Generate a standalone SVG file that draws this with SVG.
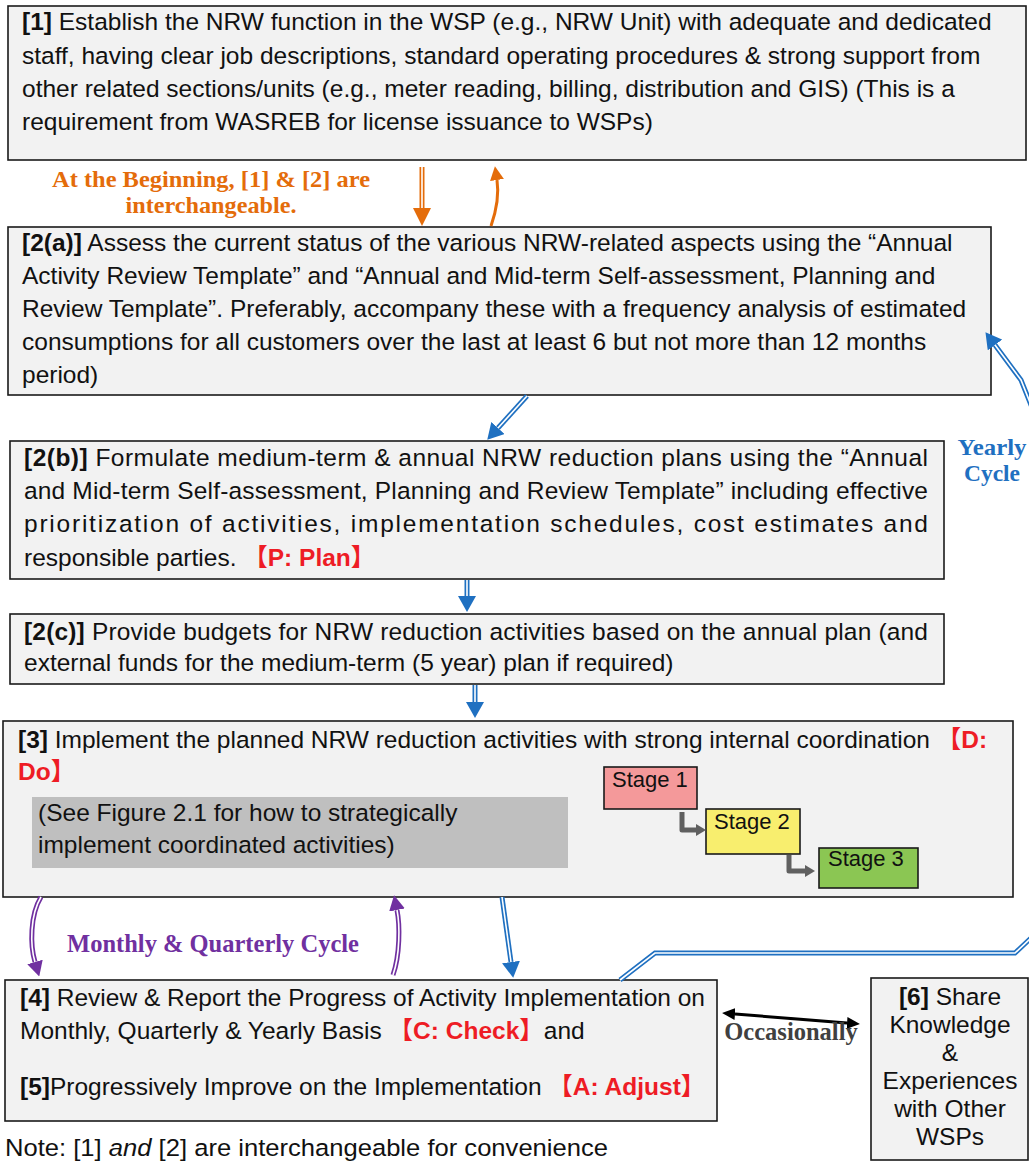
<svg xmlns="http://www.w3.org/2000/svg" width="1029" height="1163" viewBox="0 0 1029 1163">
  <style>
    .box { fill: #F2F2F2; stroke: #1a1a1a; stroke-width: 1.6; }
    .t { font-family: "Liberation Sans", Arial, "Noto Sans CJK JP", sans-serif; font-size: 24.5px; fill: #111; }
    .st { font-family: "Liberation Sans", Arial, sans-serif; font-size: 22px; fill: #111; }
    .b { font-weight: bold; }
    .red { fill: #EE1C25; font-weight: bold; }
    .lbl { font-family: "Liberation Serif", "Times New Roman", serif; font-weight: bold; font-size: 24.5px; text-anchor: middle; }
    .lbl2 { font-family: "Liberation Serif", "Times New Roman", serif; font-weight: bold; font-size: 23px; text-anchor: middle; }
    .dbl-in { fill: none; stroke: #fff; stroke-width: 1.6; }
    .dbl-blue { fill: none; stroke: #1F70C1; stroke-width: 5; }
    .dbl-orange { fill: none; stroke: #E46C0A; stroke-width: 5; }
    .dbl-purple { fill: none; stroke: #7030A0; stroke-width: 5; }
    .stage { stroke: #1a1a1a; stroke-width: 1.6; }
  </style>
  <defs>
    <marker id="ahBlue" viewBox="0 0 16 18" refX="0" refY="9" markerWidth="16" markerHeight="18" markerUnits="userSpaceOnUse" orient="auto">
      <path d="M0,0 L16,9 L0,18 z" fill="#1F70C1"/>
    </marker>
    <marker id="ahOrange" viewBox="0 0 18 18" refX="0" refY="9" markerWidth="18" markerHeight="18" markerUnits="userSpaceOnUse" orient="auto">
      <path d="M0,0 L18,9 L0,18 z" fill="#E46C0A"/>
    </marker>
    <marker id="ahOrangeSm" viewBox="0 0 14 14" refX="0" refY="7" markerWidth="14" markerHeight="14" markerUnits="userSpaceOnUse" orient="auto">
      <path d="M0,0 L14,7 L0,14 z" fill="#E46C0A"/>
    </marker>
    <marker id="ahPurple" viewBox="0 0 15 16" refX="0" refY="8" markerWidth="15" markerHeight="16" markerUnits="userSpaceOnUse" orient="auto">
      <path d="M0,0 L15,8 L0,16 z" fill="#7030A0"/>
    </marker>
    <marker id="ahBlack" viewBox="0 0 13 12" refX="0" refY="6" markerWidth="13" markerHeight="12" markerUnits="userSpaceOnUse" orient="auto-start-reverse">
      <path d="M0,0 L13,6 L0,12 z" fill="#000"/>
    </marker>
    <marker id="ahGray" viewBox="0 0 10 12" refX="0" refY="6" markerWidth="10" markerHeight="12" markerUnits="userSpaceOnUse" orient="auto">
      <path d="M0,0 L10,6 L0,12 z" fill="#606060"/>
    </marker>
  </defs>

  <rect width="1029" height="1163" fill="#fff"/>

  <!-- [1] NRW function -->
  <g id="node-1">
    <rect class="box" x="8" y="6" width="1018" height="154"/>
    <text class="t" x="22" y="30"><tspan class="b">[1]</tspan> Establish the NRW function in the WSP (e.g., NRW Unit) with adequate and dedicated</text>
    <text class="t" x="22" y="64">staff, having clear job descriptions, standard operating procedures &amp; strong support from</text>
    <text class="t" x="22" y="97">other related sections/units (e.g., meter reading, billing, distribution and GIS) (This is a</text>
    <text class="t" x="22" y="130">requirement from WASREB for license issuance to WSPs)</text>
  </g>

  <!-- [2(a)] status assessment -->
  <g id="node-2a">
    <rect class="box" x="8" y="227" width="983" height="168"/>
    <text class="t" x="22" y="251"><tspan class="b">[2(a)]</tspan> Assess the current status of the various NRW-related aspects using the “Annual</text>
    <text class="t" x="22" y="284">Activity Review Template” and “Annual and Mid-term Self-assessment, Planning and</text>
    <text class="t" x="22" y="317">Review Template”. Preferably, accompany these with a frequency analysis of estimated</text>
    <text class="t" x="22" y="350">consumptions for all customers over the last at least 6 but not more than 12 months</text>
    <text class="t" x="22" y="383">period)</text>
  </g>

  <!-- [2(b)] reduction plans -->
  <g id="node-2b">
    <rect class="box" x="10" y="441" width="934" height="138"/>
    <text class="t" x="24" y="466" textLength="904" lengthAdjust="spacing"><tspan class="b">[2(b)]</tspan> Formulate medium-term &amp; annual NRW reduction plans using the “Annual</text>
    <text class="t" x="24" y="499" textLength="904" lengthAdjust="spacing">and Mid-term Self-assessment, Planning and Review Template” including effective</text>
    <text class="t" x="24" y="532" textLength="904" lengthAdjust="spacing">prioritization of activities, implementation schedules, cost estimates and</text>
    <text class="t" x="24" y="566">responsible parties. <tspan class="red">【P: Plan】</tspan></text>
  </g>

  <!-- [2(c)] budgets -->
  <g id="node-2c">
    <rect class="box" x="10" y="614" width="934" height="70"/>
    <text class="t" x="24" y="640" textLength="904" lengthAdjust="spacing"><tspan class="b">[2(c)]</tspan> Provide budgets for NRW reduction activities based on the annual plan (and</text>
    <text class="t" x="24" y="671">external funds for the medium-term (5 year) plan if required)</text>
  </g>

  <!-- [3] implementation -->
  <g id="node-3">
    <rect class="box" x="3" y="721" width="1010" height="176"/>
    <text class="t" x="18" y="748"><tspan class="b">[3]</tspan> Implement the planned NRW reduction activities with strong internal coordination <tspan class="red">【D:</tspan></text>
    <text class="t" x="18" y="780"><tspan class="red">Do】</tspan></text>
    <rect x="32" y="797" width="536" height="71" fill="#BFBFBF"/>
    <text class="t" x="38" y="821">(See Figure 2.1 for how to strategically</text>
    <text class="t" x="38" y="853">implement coordinated activities)</text>
  </g>

  <g id="stage-1">
    <rect class="stage" x="604" y="767" width="93" height="42" fill="#F4999A"/>
    <text class="st" x="612" y="787">Stage 1</text>
  </g>
  <g id="stage-2">
    <rect class="stage" x="706" y="809" width="94" height="45" fill="#F8EE6E"/>
    <text class="st" x="714" y="829">Stage 2</text>
  </g>
  <g id="stage-3">
    <rect class="stage" x="819" y="848" width="99" height="40" fill="#8BC653"/>
    <text class="st" x="828" y="866">Stage 3</text>
  </g>

  <!-- [4]/[5] review and adjust -->
  <g id="node-4">
    <rect class="box" x="5" y="980" width="712" height="141"/>
    <text class="t" x="20" y="1006"><tspan class="b">[4]</tspan> Review &amp; Report the Progress of Activity Implementation on</text>
    <text class="t" x="20" y="1039">Monthly, Quarterly &amp; Yearly Basis <tspan class="red">【C: Check】</tspan>and</text>
    <text class="t" x="20" y="1095"><tspan class="b">[5]</tspan>Progressively Improve on the Implementation <tspan class="red">【A: Adjust】</tspan></text>
  </g>

  <!-- [6] knowledge sharing -->
  <g id="node-6">
    <rect class="box" x="871" y="978" width="157" height="182"/>
    <g class="t" text-anchor="middle">
      <text x="950" y="1005"><tspan class="b">[6]</tspan> Share</text>
      <text x="950" y="1033">Knowledge</text>
      <text x="950" y="1061">&amp;</text>
      <text x="950" y="1089">Experiences</text>
      <text x="950" y="1117">with Other</text>
      <text x="950" y="1145">WSPs</text>
    </g>
  </g>

  <!-- connectors -->
  <g id="connectors">
    <!-- [1] <-> [2] -->
    <path class="dbl-orange" d="M422,167 L422,208" marker-end="url(#ahOrange)"/>
    <path class="dbl-in" d="M422,167 L422,208"/>
    <path d="M491,226 Q500,200 497,180" fill="none" stroke="#E46C0A" stroke-width="3" marker-end="url(#ahOrangeSm)"/>

    <!-- [2(a)] -> [2(b)] -> [2(c)] -> [3] -->
    <path class="dbl-blue" d="M527,396 L498,428" marker-end="url(#ahBlue)"/>
    <path class="dbl-in" d="M527,396 L498,428"/>
    <path class="dbl-blue" d="M467,580 L467,596" marker-end="url(#ahBlue)"/>
    <path class="dbl-in" d="M467,580 L467,596"/>
    <path class="dbl-blue" d="M475,685 L475,702" marker-end="url(#ahBlue)"/>
    <path class="dbl-in" d="M475,685 L475,702"/>

    <!-- [3] -> [4] -->
    <path class="dbl-blue" d="M502,897 L511,962" marker-end="url(#ahBlue)"/>
    <path class="dbl-in" d="M502,897 L511,962"/>

    <!-- yearly cycle back to [2(a)] -->
    <path class="dbl-blue" d="M620,980 L655,953 L1015,953 L1045,925 L1045,440 L1021,380 L995,345" marker-end="url(#ahBlue)"/>
    <path class="dbl-in" d="M620,980 L655,953 L1015,953 L1045,925 L1045,440 L1021,380 L995,345"/>

    <!-- monthly / quarterly cycle -->
    <path class="dbl-purple" d="M41,897 C30,915 30,945 35,962" marker-end="url(#ahPurple)"/>
    <path class="dbl-in" d="M41,897 C30,915 30,945 35,962"/>
    <path class="dbl-purple" d="M393,975 C400,955 400,925 397,910" marker-end="url(#ahPurple)"/>
    <path class="dbl-in" d="M393,975 C400,955 400,925 397,910"/>

    <!-- [4] <-> [6] -->
    <path d="M735,1014 L847,1023" stroke="#000" stroke-width="3" fill="none" marker-start="url(#ahBlack)" marker-end="url(#ahBlack)"/>

    <!-- stage steps -->
    <path d="M682,812 L682,830 L696,830" fill="none" stroke="#606060" stroke-width="5" stroke-linejoin="round" marker-end="url(#ahGray)"/>
    <path d="M789,855 L789,871 L805,871" fill="none" stroke="#606060" stroke-width="5" stroke-linejoin="round" marker-end="url(#ahGray)"/>
  </g>

  <!-- labels -->
  <text class="lbl2" x="211" y="187" fill="#E46C0A" textLength="318" lengthAdjust="spacingAndGlyphs">At the Beginning, [1] &amp; [2] are</text>
  <text class="lbl2" x="211" y="213" fill="#E46C0A" textLength="171" lengthAdjust="spacingAndGlyphs">interchangeable.</text>
  <text class="lbl2" x="992" y="455" fill="#1F70C1" textLength="69" lengthAdjust="spacingAndGlyphs">Yearly</text>
  <text class="lbl2" x="992" y="481" fill="#1F70C1" textLength="56" lengthAdjust="spacingAndGlyphs">Cycle</text>
  <text class="lbl" x="213" y="952" fill="#7030A0">Monthly &amp; Quarterly Cycle</text>
  <text class="lbl" x="791" y="1040" fill="#404040">Occasionally</text>

  <text class="t" x="5" y="1156" textLength="603" lengthAdjust="spacingAndGlyphs">Note: [1] <tspan font-style="italic">and</tspan> [2] are interchangeable for convenience</text>
</svg>
